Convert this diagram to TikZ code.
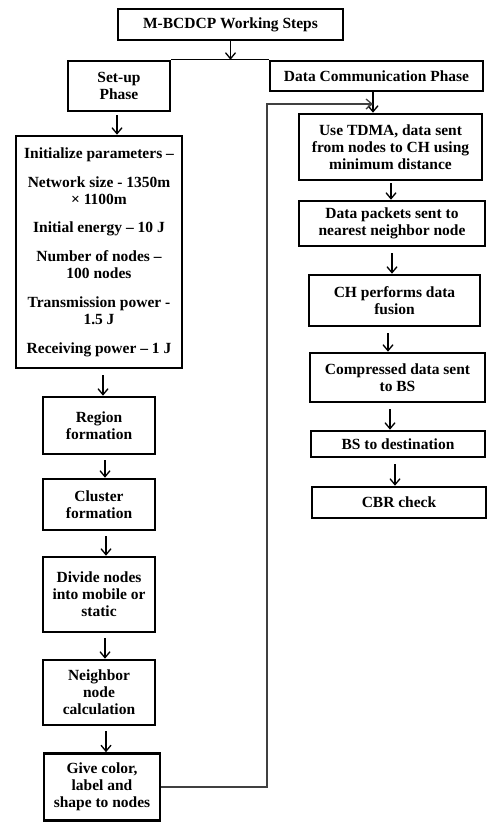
\documentclass[tikz,border=0pt]{standalone}
\usepackage{fontspec}
\setmainfont{Liberation Serif}
\usetikzlibrary{arrows.meta}
\begin{document}
\begin{tikzpicture}[x=1pt,y=-1pt,
 box/.style={draw,line width=2.6pt,align=center,inner sep=0pt,font=\fontsize{15.5}{17}\selectfont\bfseries},
 arr/.style={line width=1.3pt,-{Straight Barb[length=6pt,width=10pt]}},
 conn/.style={line width=1.3pt},
 ]
\useasboundingbox (0,0) rectangle (488,823);
% top
\node[box,minimum width=225pt,minimum height=31pt] (title) at (230.5,24.5) {M-BCDCP Working Steps};
\node[box,minimum width=102pt,minimum height=50pt] (setup) at (119,86) {Set-up\\Phase};
\node[box,minimum width=213pt,minimum height=30pt] (dc) at (376.5,76) {Data Communication Phase};
% left column
\node[box,minimum width=166pt,minimum height=232pt] (init) at (99,252) {Initialize parameters –\\[12pt]
Network size - 1350m\\× 1100m\\[11pt]
Initial energy – 10 J\\[12pt]
Number of nodes –\\100 nodes\\[12pt]
Transmission power -\\1.5 J\\[12pt]
Receiving power – 1 J};
\node[box,minimum width=112pt,minimum height=57pt] (region) at (99,425.5) {Region\\formation};
\node[box,minimum width=112pt,minimum height=51pt] (cluster) at (99,504.5) {Cluster\\formation};
\node[box,minimum width=112pt,minimum height=75pt] (divide) at (99,594.5) {Divide nodes\\into mobile or\\static};
\node[box,minimum width=112pt,minimum height=65pt] (neighbor) at (99,692.5) {Neighbor\\node\\calculation};
\node[box,minimum width=116pt,minimum height=67pt] (give) at (102,787) {Give color,\\label and\\shape to nodes};
% right column
\node[box,minimum width=183pt,minimum height=66pt] (tdma) at (390.5,147) {Use TDMA, data sent\\from nodes to CH using\\minimum distance};
\node[box,minimum width=186pt,minimum height=45pt] (packets) at (392,223.5) {Data packets sent to\\nearest neighbor node};
\node[box,minimum width=171pt,minimum height=51pt] (ch) at (394.5,300.5) {CH performs data\\fusion};
\node[box,minimum width=175pt,minimum height=49pt] (compressed) at (397.5,377.5) {Compressed data sent\\to BS};
\node[box,minimum width=174pt,minimum height=26pt] (bs) at (398,444) {BS to destination};
\node[box,minimum width=174pt,minimum height=31pt] (cbr) at (399,502.5) {CBR check};
% connectors
\draw[arr] (title.south) -- (title.south |- setup.north);
\draw[conn] (setup.north east) -- (dc.north west);
\draw[arr,shorten <=3pt] ([xshift=-2pt]setup.south) -- ([xshift=18pt]init.north);
\draw[arr,shorten <=6pt] ([xshift=4pt]init.south) -- ([xshift=4pt]region.north);
\draw[arr,shorten <=5pt] ([xshift=6pt]region.south) -- ([xshift=6pt]cluster.north);
\draw[arr,shorten <=5pt] ([xshift=7pt]cluster.south) -- ([xshift=7pt]divide.north);
\draw[arr,shorten <=5pt] ([xshift=6pt]divide.south) -- ([xshift=6pt]neighbor.north);
\draw[arr,shorten <=5pt] ([xshift=7pt]neighbor.south) -- ([xshift=4pt]give.north);
\draw[arr] ([xshift=-3.5pt]dc.south) -- ([xshift=-17.5pt]tdma.north);
\draw[arr,shorten <=2pt] ([xshift=0.5pt]tdma.south) -- ([xshift=-1pt]packets.north);
\draw[arr,shorten <=6pt] ([xshift=0pt]packets.south) -- ([xshift=-2.5pt]ch.north);
\draw[arr,shorten <=6pt] ([xshift=-6.5pt]ch.south) -- ([xshift=-9.5pt]compressed.north);
\draw[arr,shorten <=6pt] ([xshift=-7.5pt]compressed.south) -- ([xshift=-8pt]bs.north);
\draw[arr,shorten <=6pt] ([xshift=-3pt]bs.south) -- ([xshift=-4pt]cbr.north);
\coordinate (lp) at (267,104);
\draw[arr,draw=black!75] (give.east) -| (lp) -- ([xshift=-3.5pt]dc.south |- lp);
\end{tikzpicture}
\end{document}
